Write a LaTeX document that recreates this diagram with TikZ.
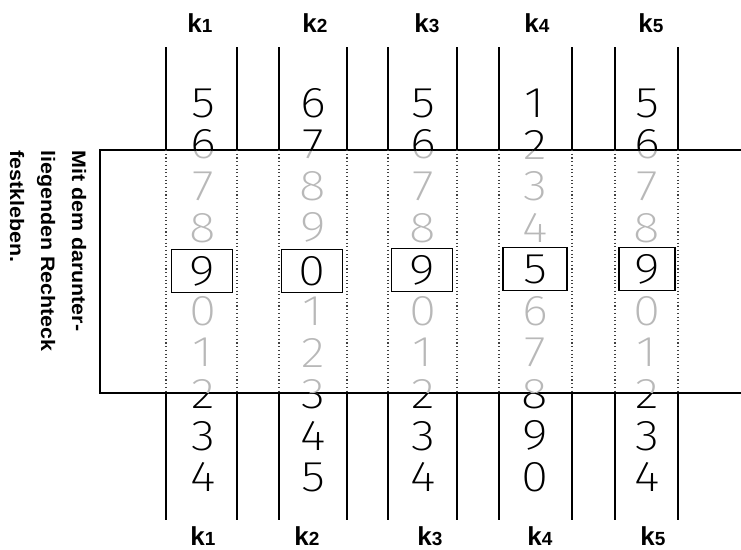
\documentclass[tikz,border=0pt]{standalone}
\usepackage{fontspec}
\setmainfont{Liberation Sans}
\newfontfamily\lblfont{Liberation Sans}[FakeStretch=1.1]
\IfFontExistsTF{Fira Sans ExtraLight}{\newfontfamily\digfont{Fira Sans ExtraLight}[FakeStretch=1.15]}{\let\digfont\sffamily}
\newcommand{\kl}[1]{{\fontsize{26}{26}\selectfont\bfseries k}{\fontsize{19}{19}\selectfont\bfseries #1}}
\tikzset{
  col/.style={line width=1.3pt, black},
  dotcol/.style={line width=1.3pt, black!75, dash pattern=on 1.1pt off 2.6pt},
  rect/.style={line width=1.4pt, black},
  dig/.style={font=\digfont\fontsize{43}{43}\selectfont, inner sep=0pt},
  gdig/.style={dig, text=black!28},
  bdig/.style={dig, draw, line width=1.4pt, minimum width=61pt, minimum height=43pt},
  klab/.style={anchor=base, inner sep=0pt},
  note/.style={font=\lblfont\bfseries\fontsize{19.5}{19.5}\selectfont, rotate=-90, anchor=base west, inner sep=0pt}
}
\begin{document}
\begin{tikzpicture}[x=1pt,y=-1pt]
\useasboundingbox (0,0) rectangle (741,549);
% rectangle (open to the right)
\coordinate (rtl) at (100,150);
\coordinate (rbl) at (100,393);
\coordinate (rtr) at (741,150);
\coordinate (rbr) at (741,393);
\draw[rect] (rtr) -- (rtl) -- (rbl) -- (rbr);
% column strips
\foreach \n/\xl/\xr in {1/166/237,2/279/347,3/388/457,4/499/572,5/615/678}{
  \coordinate (c\n lt) at (\xl,47);  \coordinate (c\n lu) at (\xl,150);
  \coordinate (c\n ld) at (\xl,393); \coordinate (c\n lb) at (\xl,520);
  \coordinate (c\n rt) at (\xr,47);  \coordinate (c\n ru) at (\xr,150);
  \coordinate (c\n rd) at (\xr,393); \coordinate (c\n rb) at (\xr,520);
  \draw[col] (c\n lt) -- (c\n lu) (c\n ld) -- (c\n lb);
  \draw[col] (c\n rt) -- (c\n ru) (c\n rd) -- (c\n rb);
  \draw[dotcol] (c\n lu) -- (c\n ld) (c\n ru) -- (c\n rd);
}
% digits inside the rectangle (dotted look)
\begin{scope}
\clip (100,150) rectangle (741,393);
\foreach \n/\x/\s in {1/203/5,2/313/6,3/423/5,4/535/1,5/647/5}{
  \foreach \i in {0,1,2,3,5,6,7,8,9}{
    \pgfmathtruncatemacro\d{mod(\s+\i,10)}
    \node[gdig] (g\n-\i) at (\x,{103+41.6*\i}) {\d};
  }
}
\end{scope}
% digits outside the rectangle
\begin{scope}
\clip (0,0) rectangle (741,150) (0,393) rectangle (741,549);
\foreach \n/\x/\s in {1/203/5,2/313/6,3/423/5,4/535/1,5/647/5}{
  \foreach \i in {0,1,2,3,5,6,7,8,9}{
    \pgfmathtruncatemacro\d{mod(\s+\i,10)}
    \node[dig] (d\n-\i) at (\x,{103+41.6*\i}) {\d};
  }
}
\end{scope}
% boxed digits
\node[bdig] (b1) at (202,271) {9};
\node[bdig] (b2) at (312,271) {0};
\node[bdig] (b3) at (422,270) {9};
\node[bdig, minimum width=64pt] (b4) at (535,269) {5};
\node[bdig, minimum width=56pt] (b5) at (647,269) {9};
% column labels
\node[klab] (kt1) at (200,32) {\kl{1}};
\node[klab] (kt2) at (315,32) {\kl{2}};
\node[klab] (kt3) at (427,32) {\kl{3}};
\node[klab] (kt4) at (537,32) {\kl{4}};
\node[klab] (kt5) at (651,32) {\kl{5}};
\node[klab] (kb1) at (203,545) {\kl{1}};
\node[klab] (kb2) at (307,545) {\kl{2}};
\node[klab] (kb3) at (430,545) {\kl{3}};
\node[klab] (kb4) at (540,545) {\kl{4}};
\node[klab] (kb5) at (653,545) {\kl{5}};
% rotated note
\node[note] (n1) at (72,150) {Mit dem darunter-};
\node[note] (n2) at (41,150) {liegenden Rechteck};
\node[note] (n3) at (10,150) {festkleben.};
\end{tikzpicture}
\end{document}
